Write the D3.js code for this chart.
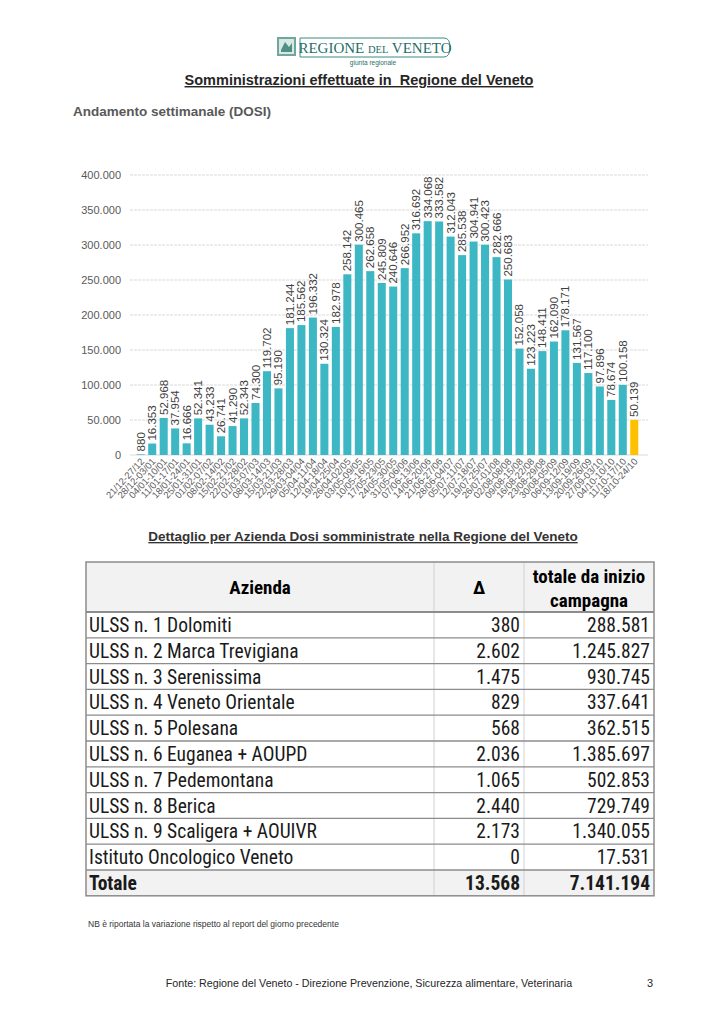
<!DOCTYPE html>
<html><head><meta charset="utf-8">
<script src="https://cdn.jsdelivr.net/npm/d3@7"></script>
<style>
body{margin:0;background:#fff;}
svg{display:block;}
</style></head>
<body>
<svg id="c" width="724" height="1024"></svg>
<script>
const weeks = ["21/12-27/12","28/12-03/01","04/01-10/01","11/01-17/01","18/01-24/01","25/01-31/01","01/02-07/02","08/02-14/02","15/02-21/02","22/02-28/02","01/03-07/03","08/03-14/03","15/03-21/03","22/03-28/03","29/03-04/04","05/04-11/04","12/04-18/04","19/04-25/04","26/04-02/05","03/05-09/05","10/05-16/05","17/05-23/05","24/05-30/05","31/05-06/06","07/06-13/06","14/06-20/06","21/06-27/06","28/06-04/07","05/07-11/07","12/07-18/07","19/07-25/07","26/07-01/08","02/08-08/08","09/08-15/08","16/08-22/08","23/08-29/08","30/08-05/09","06/09-12/09","13/09-19/09","20/09-26/09","27/09-03/10","04/10-10/10","11/10-17/10","18/10-24/10"];
const doses = [880,16353,52968,37954,16666,52341,43233,26741,41290,52343,74300,119702,95190,181244,185562,196332,130324,182978,258142,300465,262658,245809,240646,266952,316692,334068,333582,312043,285538,304941,300423,282666,250683,152058,123223,148411,162090,178171,131567,117100,97896,78674,100158,50139];
const yTicks = [0,50000,100000,150000,200000,250000,300000,350000,400000];

const aziende = ["ULSS n. 1 Dolomiti","ULSS n. 2 Marca Trevigiana","ULSS n. 3 Serenissima","ULSS n. 4 Veneto Orientale","ULSS n. 5 Polesana","ULSS n. 6 Euganea + AOUPD","ULSS n. 7 Pedemontana","ULSS n. 8 Berica","ULSS n. 9 Scaligera + AOUIVR","Istituto Oncologico Veneto"];
const delta = [380,2602,1475,829,568,2036,1065,2440,2173,0];
const totale = [288581,1245827,930745,337641,362515,1385697,502853,729749,1340055,17531];
const totDelta = 13568;
const totTotale = 7141194;

const loc = d3.formatLocale({decimal:",",thousands:".",grouping:[3],currency:["",""]});
const fmt = loc.format(",d");

const svg = d3.select("#c");
const SANS = "'Liberation Sans', Arial, sans-serif";
const NARROW = "'Liberation Sans Narrow', 'Arial Narrow', 'Roboto Condensed', sans-serif";

// ---- Logo ----
const logo = svg.append("g");
logo.append("rect").attr("x",277).attr("y",37).attr("width",19).attr("height",19).attr("fill","#6fa79e");
logo.append("rect").attr("x",279).attr("y",39).attr("width",15).attr("height",15).attr("fill","#d8e9e3");
logo.append("path").attr("d","M281,50 L285,42 L289,47 L292,43 L292,52 L281,52 Z").attr("fill","#4f8f86");
logo.append("path").attr("d","M300,38 L444,38 Q450,38 450,47 Q450,57 444,57 L300,57 Z").attr("fill","#fff").attr("stroke","#3c8a80").attr("stroke-width",1);
logo.append("text").attr("x",375).attr("y",53).attr("text-anchor","middle")
  .attr("font-family","'Liberation Serif','DejaVu Serif',serif").attr("font-size",15).attr("fill","#1f6f68")
  .html('REGIONE <tspan font-size="10.5">DEL</tspan> VENETO');
logo.append("text").attr("x",373).attr("y",65).attr("text-anchor","middle").attr("font-family",SANS).attr("font-size",6.5).attr("fill","#1f6f68").text("giunta regionale");

// ---- Titles ----
svg.append("text").attr("x",359).attr("y",85).attr("text-anchor","middle").attr("font-family",SANS)
  .attr("font-weight","bold").attr("font-size",14.5).attr("fill","#262626").attr("text-decoration","underline")
  .attr("xml:space","preserve").text("Somministrazioni effettuate in  Regione del Veneto");
svg.append("text").attr("x",73).attr("y",116).attr("font-family",SANS).attr("font-weight","bold")
  .attr("font-size",13.5).attr("fill","#595959").text("Andamento settimanale (DOSI)");

// ---- Chart ----
const y = d3.scaleLinear().domain([0,400000]).range([455,175]);
const x = d3.scaleBand().domain(weeks).range([135,640]).paddingInner(0.3).paddingOuter(0.15);

const grid = svg.append("g");
grid.selectAll("line").data(yTicks).join("line")
  .attr("x1",130).attr("x2",648).attr("y1",d=>y(d)).attr("y2",d=>y(d))
  .attr("stroke","#d9d9d9").attr("stroke-width",1).attr("stroke-dasharray",d=>d===0?null:"3,1");

const yAxis = d3.axisLeft(y).tickValues(yTicks).tickFormat(fmt).tickSize(0).tickPadding(0);
const ya = svg.append("g").attr("transform","translate(121,0)").call(yAxis);
ya.select(".domain").remove();
ya.selectAll("text").attr("font-family",SANS).attr("font-size",11).attr("fill","#595959");

svg.append("g").selectAll("rect").data(doses).join("rect")
  .attr("x",(d,i)=>x(weeks[i])).attr("width",x.bandwidth())
  .attr("y",d=>y(d)).attr("height",d=>y(0)-y(d))
  .attr("fill",(d,i)=>i===doses.length-1?"#FFC000":"#3DB7C4");

svg.append("g").selectAll("text").data(doses).join("text")
  .attr("transform",(d,i)=>`translate(${x(weeks[i])+x.bandwidth()/2+4},${y(d)-3}) rotate(-90)`)
  .attr("font-family",SANS).attr("font-size",11.5).attr("fill","#404040").text(d=>fmt(d));

const xAxis = d3.axisBottom(x).tickSize(0).tickPadding(0);
const xa = svg.append("g").attr("transform","translate(0,458)").call(xAxis);
xa.select(".domain").remove();
xa.selectAll("text").attr("font-family",SANS).attr("font-size",9.5).attr("fill","#595959")
  .attr("text-anchor","end").attr("dy",0).attr("transform","translate(4,4) rotate(-47)");

// ---- Table ----
svg.append("text").attr("x",363).attr("y",541).attr("text-anchor","middle").attr("font-family",SANS)
  .attr("font-weight","bold").attr("font-size",13.5).attr("fill","#333").attr("text-decoration","underline")
  .text("Dettaglio per Azienda Dosi somministrate nella Regione del Veneto");

const tL=86, tR=654, c1=434, c2=524, tTop=562, hH=50, rH=25.8;
const rows = aziende.map((a,i)=>({name:a,d:delta[i],t:totale[i],bold:false}));
rows.push({name:"Totale",d:totDelta,t:totTotale,bold:true});
const tBot = tTop+hH+rH*rows.length;
const tbl = svg.append("g");
tbl.append("rect").attr("x",tL).attr("y",tTop).attr("width",tR-tL).attr("height",hH).attr("fill","#f2f2f2");
tbl.append("rect").attr("x",tL).attr("y",tTop+hH+rH*(rows.length-1)).attr("width",tR-tL).attr("height",rH).attr("fill","#f2f2f2");
[c1,c2].forEach(cx=>tbl.append("line").attr("x1",cx).attr("x2",cx).attr("y1",tTop).attr("y2",tBot).attr("stroke","#d0d0d0"));
tbl.selectAll("line.r").data(d3.range(rows.length)).join("line").attr("class","r")
  .attr("x1",tL).attr("x2",tR).attr("y1",i=>tTop+hH+rH*i).attr("y2",i=>tTop+hH+rH*i)
  .attr("stroke","#8c8c8c").attr("stroke-width",i=>i===0?2:1.3);
tbl.append("rect").attr("x",tL).attr("y",tTop).attr("width",tR-tL).attr("height",tBot-tTop)
  .attr("fill","none").attr("stroke","#8c8c8c").attr("stroke-width",1.5);

const th = tbl.append("g").attr("font-family",NARROW).attr("font-weight","bold").attr("font-size",19).attr("fill","#000").attr("text-anchor","middle");
th.append("text").attr("x",(tL+c1)/2).attr("y",tTop+32).text("Azienda");
th.append("text").attr("x",(c1+c2)/2).attr("y",tTop+32).text("Δ");
th.append("text").attr("x",(c2+tR)/2).attr("y",tTop+21).text("totale da inizio");
th.append("text").attr("x",(c2+tR)/2).attr("y",tTop+45).text("campagna");

const rg = tbl.append("g").attr("font-family",NARROW).attr("font-size",19.5).attr("fill","#1a1a1a");
const rowG = rg.selectAll("g").data(rows).join("g")
  .attr("transform",(d,i)=>`translate(0,${tTop+hH+rH*i+rH/2+7})`)
  .attr("font-weight",d=>d.bold?"bold":"normal");
rowG.append("text").attr("x",tL+3).text(d=>d.name);
rowG.append("text").attr("x",c2-4).attr("text-anchor","end").text(d=>fmt(d.d));
rowG.append("text").attr("x",tR-4).attr("text-anchor","end").text(d=>fmt(d.t));

// ---- Notes ----
svg.append("text").attr("x",88).attr("y",927).attr("font-family",SANS).attr("font-size",8.5).attr("fill","#333")
  .text("NB è riportata la variazione rispetto al report del giorno precedente");
svg.append("text").attr("x",369).attr("y",987).attr("text-anchor","middle").attr("font-family",SANS).attr("font-size",10.7).attr("fill","#262626")
  .text("Fonte: Regione del Veneto - Direzione Prevenzione, Sicurezza alimentare, Veterinaria");
svg.append("text").attr("x",650).attr("y",987).attr("text-anchor","middle").attr("font-family",SANS).attr("font-size",11).attr("fill","#262626").text("3");
</script>
</body></html>
